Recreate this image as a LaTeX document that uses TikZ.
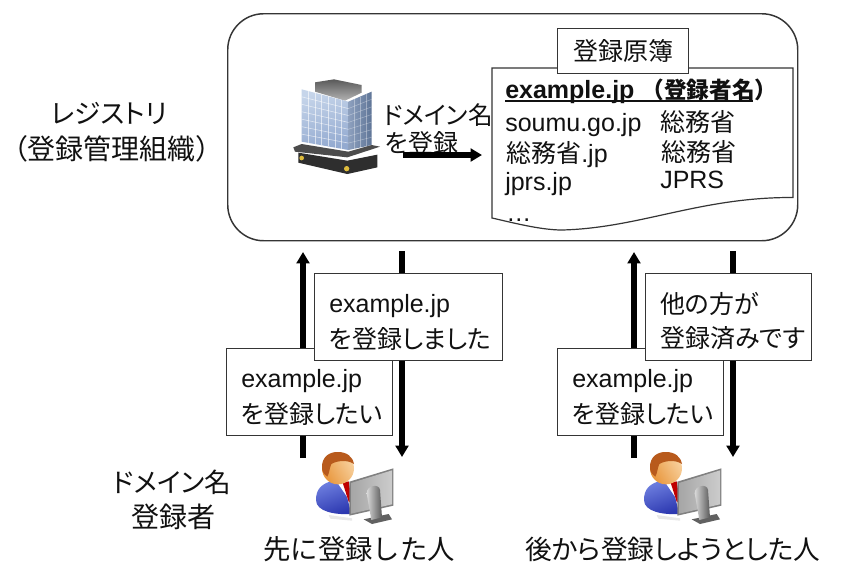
\documentclass[tikz,border=0pt]{standalone}
\usepackage{fontspec}
\setmainfont{Liberation Sans}
\newfontfamily\jpf[RawFeature=+palt]{Noto Sans CJK JP}
\newfontfamily\jpw{Noto Sans CJK JP}
\newcommand{\J}[1]{{\jpf #1}}
\newcommand{\W}[1]{{\jpw #1}}
\newcommand{\Ind}{\hspace*{11pt}}
\newcommand{\Top}{\rule{0pt}{22pt}}
\usetikzlibrary{arrows.meta}
\definecolor{ink}{HTML}{111111}
\definecolor{glassA}{HTML}{C6D5EA}
\definecolor{glassB}{HTML}{93AAD0}
\definecolor{glassC}{HTML}{8DA0BE}
\definecolor{glassD}{HTML}{5F7597}
\definecolor{suitA}{HTML}{6F80E0}
\definecolor{suitB}{HTML}{2C38B0}
\definecolor{hair}{HTML}{B85A1C}
\definecolor{skinA}{HTML}{F8D2A0}
\definecolor{skinB}{HTML}{E8963C}
\tikzset{
  frameline/.style={draw=ink!85!white,line width=1.1pt},
  txt/.style={inner sep=0pt,font=\fontsize{18.75}{26}\selectfont,text=ink},
  biglabel/.style={inner sep=0pt,font=\fontsize{20}{26}\selectfont,text=ink},
  msgbox/.style={draw=ink!85!white,fill=white,line width=.9pt,anchor=north west,inner sep=0pt,
     minimum height=65.25pt,font=\fontsize{18.75}{27}\selectfont,text=ink,align=left},
  bigarrow/.style={line width=3.9pt,draw=black,-{Triangle[length=8.5pt,width=9.5pt]}},
  person/.pic={
    \begin{scope}[x=.25pt,y=-.25pt]
    \fill[gray!18] (110,225) -- (180,235) -- (180,242) -- (115,236) -- cycle;
    \shade[top color=suitA,bottom color=suitB,shading angle=20]
      (72,180) .. controls (72,150) and (85,130) .. (130,120) -- (155,130) -- (178,222)
      .. controls (130,225) and (72,215) .. (72,180) -- cycle;
    \fill[white] (132,122) -- (182,122) -- (182,195) -- cycle;
    \fill[red!75!black] (152,128) -- (170,124) -- (181,190) -- (170,185) -- cycle;
    \shade[left color=skinA,right color=skinB,shading angle=300]
      (138,85) ellipse [x radius=48,y radius=48];
    \fill[hair] (90,85) .. controls (88,50) and (113,35) .. (138,36)
      .. controls (165,36) and (182,50) .. (186,72) .. controls (165,58) and (135,62) .. (118,72)
      .. controls (112,85) and (112,100) .. (106,110) .. controls (98,105) and (91,98) .. (90,85) -- cycle;
    \fill[black!50] (172,125) -- (304,85) -- (304,197) -- (172,227) -- cycle;
    \shade[left color=gray!70,right color=gray!40] (177,129) -- (300,91) -- (300,193) -- (177,221) -- cycle;
    \fill[black!62] (215,238) -- (290,222) -- (300,238) -- (240,252) -- cycle;
    \shade[left color=gray!30,right color=black!65] (224,160) .. controls (224,135) and (262,130) .. (264,150)
      -- (270,232) -- (238,240) -- cycle;
    \end{scope}
  }
}
\begin{document}
\begin{tikzpicture}[x=.75pt,y=-.75pt]
\useasboundingbox (0,0) rectangle (846,562);
\fill[white] (0,0) rectangle (846,562);

% registry frame
\node[frameline,rounded corners=27pt,minimum width=427.5pt,minimum height=170.25pt,anchor=north west,inner sep=0pt] (registry) at (227,13) {};

% building
\begin{scope}[shift={(260,50)},x=.25pt,y=-.25pt]
  \shade[top color=black!65,bottom color=gray!60] (165,97) -- (222,88) -- (305,105) -- (305,128) -- (255,152) -- (165,125) -- cycle;
  \shade[top color=glassA,bottom color=glassB,shading angle=15] (125,118) -- (265,155) -- (265,300) -- (125,275) -- cycle;
  \shade[left color=glassC,right color=glassD] (265,155) -- (335,125) -- (335,285) -- (265,300) -- cycle;
  \foreach \i in {1,...,6}{
    \draw[white,line width=.45pt,opacity=.6] ({125+20*\i},{118+5.3*\i}) -- ({125+20*\i},{275+3.6*\i});
  }
  \foreach \i in {1,...,6}{
    \draw[white,line width=.45pt,opacity=.6] (125,{118+22.4*\i}) -- (265,{155+20.7*\i});
    \draw[white,line width=.4pt,opacity=.35] (265,{155+20.7*\i}) -- (335,{125+22.8*\i});
  }
  \foreach \i in {1,2,3}{
    \draw[white,line width=.4pt,opacity=.35] ({265+17.5*\i},{155-7.5*\i}) -- ({265+17.5*\i},{300-3.7*\i});
  }
  \fill[black!70] (100,292) -- (125,282) -- (265,305) -- (335,285) -- (360,290) -- (262,322) -- (105,305) -- cycle;
  \fill[black!82] (115,308) -- (262,332) -- (352,314) -- (352,352) -- (262,372) -- (115,338) -- cycle;
  \fill[yellow!45!brown] (125,324) circle (7);
  \fill[yellow!45!brown] (260,356) circle (8);
\end{scope}

% labels left of frame
\node[biglabel] (regA) at (109,113) {\J{レジストリ}};
\node[biglabel,font=\fontsize{21}{26}\selectfont] (regB) at (112,149) {\W{（登録管理組織）}};

% building caption
\node[txt,anchor=west,font=\fontsize{18.5}{26}\selectfont] (regC) at (383,115) {\J{ドメイン名}};
\node[txt,anchor=west] (regD) at (385,143) {\J{を登録}};
\coordinate (bs) at (403,155);
\coordinate (be) at (482,155);
\draw[bigarrow] (bs) -- (be);

% ledger
\path[draw=ink!85!white,line width=.9pt,fill=white] (492,68) -- (793,68) -- (793,197.5)
   .. controls (700,197) and (640,228) .. (562,230)
   .. controls (540,230) and (510,222) .. (492,218) -- cycle;
\node[draw=ink!85!white,fill=white,line width=.9pt,minimum width=98.25pt,minimum height=33.75pt,inner sep=0pt,anchor=north west,font=\fontsize{18.75}{20}\selectfont,text=ink] (tab) at (557,28) {\W{登録原簿}};

\node[txt,anchor=base west,font=\bfseries\fontsize{18.75}{20}\selectfont] (h) at (505,98)
  {\rlap{\rule[-3pt]{186pt}{1.5pt}}example.jp {\fontsize{17}{20}\selectfont\W{（登録者名）}}};
\node[txt,anchor=base west] (d1) at (505,131) {soumu.go.jp};
\node[txt,anchor=west] (o1) at (660,122) {\W{総務省}};
\node[txt,anchor=base west] (d2) at (506,162) {\W{総務省}.jp};
\node[txt,anchor=west] (o2) at (661,152) {\W{総務省}};
\node[txt,anchor=base west] (d3) at (505,190) {jprs.jp};
\node[txt,anchor=base west] (o3) at (660,188) {JPRS};
\node[txt,anchor=base west] (d4) at (506,221) {…};

% connectors
\coordinate (a1s) at (303,458); \coordinate (a1e) at (303,252);
\coordinate (a2s) at (402,251); \coordinate (a2e) at (402,457);
\coordinate (a3s) at (634,458); \coordinate (a3e) at (634,252);
\coordinate (a4s) at (733,251); \coordinate (a4e) at (733,457);
\draw[bigarrow] (a1s) -- (a1e);
\draw[bigarrow] (a2s) -- (a2e);
\draw[bigarrow] (a3s) -- (a3e);
\draw[bigarrow] (a4s) -- (a4e);

% message boxes
\node[msgbox,text width=124.5pt] (ma) at (226,348) {\Top\Ind example.jp\\ \Ind\J{を登録したい}};
\node[msgbox,text width=141pt] (mb) at (314,273) {\Top\Ind example.jp\\ \Ind\J{を登録しました}};
\node[msgbox,text width=124.5pt] (mc) at (557,348) {\Top\Ind example.jp\\ \Ind\J{を登録したい}};
\node[msgbox,text width=124.5pt] (md) at (645,273) {\Top\Ind\J{他の方が}\\[-2pt] \Ind\J{登録済みです}};

% people
\pic at (292,440) {person};
\pic at (620,440) {person};

% bottom labels
\node[biglabel] (lA) at (172,482) {\J{ドメイン名}};
\node[biglabel,font=\fontsize{21}{26}\selectfont] (lB) at (173,517) {\W{登録者}};
\node[biglabel,font=\fontsize{20.5}{26}\selectfont] (lC) at (359,549.5) {\W{先に登録した人}};
\node[biglabel] (lD) at (673,549) {\J{後から登録しようとした人}};
\end{tikzpicture}
\end{document}
